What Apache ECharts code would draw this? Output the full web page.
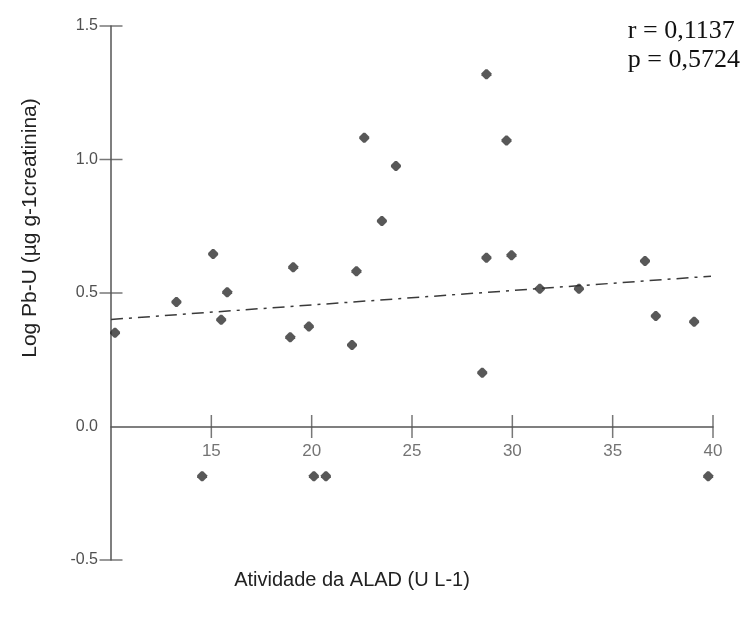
<!DOCTYPE html>
<html>
<head>
<meta charset="utf-8">
<script src="https://cdn.jsdelivr.net/npm/echarts@6/dist/echarts.min.js"></script>
<style>html,body{margin:0;padding:0;background:#fff;}#c{width:747px;height:623px;}</style>
</head>
<body>
<div id="c"></div>
<script>
// Scatter points: [Atividade da ALAD, Log Pb-U]
const points = [
  [10.2, 0.351], [13.26, 0.466], [14.54, -0.186], [15.09, 0.646], [15.49, 0.400],
  [15.79, 0.503], [18.93, 0.334], [19.08, 0.596], [19.86, 0.375], [20.11, -0.186],
  [20.71, -0.186], [22.01, 0.305], [22.23, 0.581], [22.62, 1.081], [23.50, 0.770],
  [24.20, 0.976], [28.50, 0.201], [28.71, 1.319], [28.71, 0.632], [29.71, 1.071],
  [29.96, 0.641], [31.37, 0.516], [33.32, 0.516], [36.61, 0.620], [37.15, 0.414],
  [39.06, 0.392], [39.76, -0.186]
];
// Regression line end points
const trendLine = [[10, 0.401], [39.9, 0.563]];
const xTicks = [15, 20, 25, 30, 35, 40];
const yTicks = [-0.5, 0.5, 1.0, 1.5];
const statsText = ['r = 0,1137', 'p = 0,5724'];
const xTitle = 'Atividade da ALAD (U L-1)';
const yTitle = 'Log Pb-U (µg g-1creatinina)';

const chart = echarts.init(document.getElementById('c'), null, {renderer: 'canvas'});
const axisColor = '#555';
const labelColor = '#505050';
chart.setOption({
  animation: false,
  backgroundColor: '#fff',
  grid: {left: 111, right: 34, top: 26, bottom: 63},
  xAxis: {
    type: 'value', min: 10, max: 40, interval: 5,
    axisLine: {onZero: true, lineStyle: {color: axisColor, width: 1.5}},
    axisTick: {show: false},
    splitLine: {show: false},
    axisLabel: {show: false}
  },
  yAxis: {
    type: 'value', min: -0.5, max: 1.5, interval: 0.5,
    axisLine: {onZero: false, lineStyle: {color: axisColor, width: 1.5}},
    axisTick: {show: false},
    splitLine: {show: false},
    axisLabel: {
      color: labelColor, fontFamily: 'Liberation Sans, Arial', fontSize: 16, margin: 13,
      formatter: v => v.toFixed(1)
    }
  },
  series: [
    {
      type: 'scatter', silent: true, clip: false, z: 1,
      symbol: 'rect', symbolSize: [1.5, 23],
      itemStyle: {color: axisColor},
      label: {
        show: true, position: 'bottom', distance: 5,
        color: labelColor, fontFamily: 'Liberation Sans, Arial', fontSize: 17,
        formatter: p => String(p.value[0])
      },
      data: xTicks.map(v => [v, 0])
    },
    {
      type: 'scatter', silent: true, clip: false, z: 1,
      symbol: 'rect', symbolSize: [23, 1.5],
      itemStyle: {color: axisColor},
      data: yTicks.map(v => [10, v])
    },
    {
      type: 'line', silent: true, symbol: 'none', z: 2,
      lineStyle: {color: '#3a3a3a', width: 1.5, type: [12, 6, 3, 6]},
      data: trendLine
    },
    {
      type: 'scatter', z: 3,
      symbol: 'path://M-1,-5 L1,-5 L5,-1 L5,1 L1,5 L-1,5 L-5,1 L-5,-1 Z', symbolSize: 10,
      itemStyle: {color: '#2e2e2e'},
      data: points
    }
  ],
  graphic: [
    {
      type: 'text', right: 7, top: 16,
      style: {text: statsText.join('\n'), font: '26px "Liberation Serif", "Times New Roman", serif',
        fill: '#111', lineHeight: 29.5, align: 'left'}
    },
    {
      type: 'text', x: 352, y: 580,
      style: {text: xTitle, font: '20px "Liberation Sans", Arial, sans-serif', fill: '#222',
        align: 'center', verticalAlign: 'middle'}
    },
    {
      type: 'text', x: 30, y: 228, rotation: Math.PI / 2,
      style: {text: yTitle, font: '21px "Liberation Sans", Arial, sans-serif', fill: '#222',
        align: 'center', verticalAlign: 'middle'}
    }
  ]
});
</script>
</body>
</html>
